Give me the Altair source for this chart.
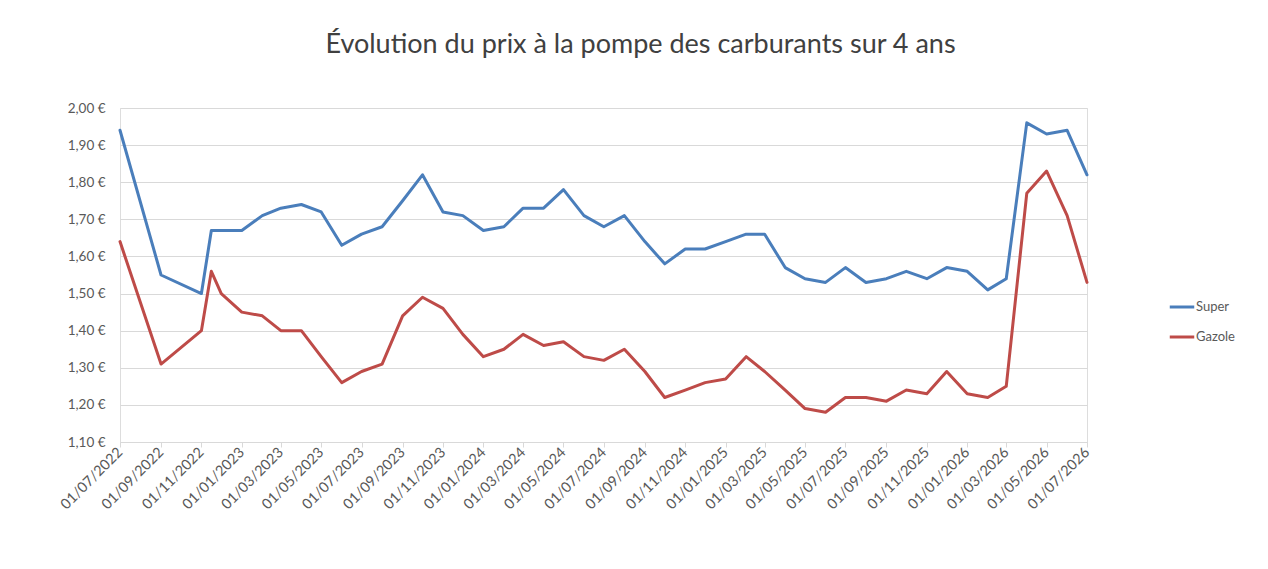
import altair as alt
import pandas as pd

dates = [
    "2022-07-01", "2022-09-01", "2022-11-01", "2022-11-16", "2022-12-01",
    "2023-01-01", "2023-02-01", "2023-03-01", "2023-04-01", "2023-05-01", "2023-06-01",
    "2023-07-01", "2023-08-01", "2023-09-01", "2023-10-01", "2023-11-01", "2023-12-01",
    "2024-01-01", "2024-02-01", "2024-03-01", "2024-04-01", "2024-05-01", "2024-06-01",
    "2024-07-01", "2024-08-01", "2024-09-01", "2024-10-01", "2024-11-01", "2024-12-01",
    "2025-01-01", "2025-02-01", "2025-03-01", "2025-04-01", "2025-05-01", "2025-06-01",
    "2025-07-01", "2025-08-01", "2025-09-01", "2025-10-01", "2025-11-01", "2025-12-01",
    "2026-01-01", "2026-02-01", "2026-03-01", "2026-04-01", "2026-05-01", "2026-06-01",
    "2026-07-01",
]
super_prices = [
    1.94, 1.55, 1.50, 1.67, 1.67,
    1.67, 1.71, 1.73, 1.74, 1.72, 1.63,
    1.66, 1.68, 1.75, 1.82, 1.72, 1.71,
    1.67, 1.68, 1.73, 1.73, 1.78, 1.71,
    1.68, 1.71, 1.64, 1.58, 1.62, 1.62,
    1.64, 1.66, 1.66, 1.57, 1.54, 1.53,
    1.57, 1.53, 1.54, 1.56, 1.54, 1.57,
    1.56, 1.51, 1.54, 1.96, 1.93, 1.94,
    1.82,
]
gazole_prices = [
    1.64, 1.31, 1.40, 1.56, 1.50,
    1.45, 1.44, 1.40, 1.40, 1.33, 1.26,
    1.29, 1.31, 1.44, 1.49, 1.46, 1.39,
    1.33, 1.35, 1.39, 1.36, 1.37, 1.33,
    1.32, 1.35, 1.29, 1.22, 1.24, 1.26,
    1.27, 1.33, 1.29, 1.24, 1.19, 1.18,
    1.22, 1.22, 1.21, 1.24, 1.23, 1.29,
    1.23, 1.22, 1.25, 1.77, 1.83, 1.71,
    1.53,
]
series_names = ["Super", "Gazole"]
series_colors = ["#4a7ebb", "#be4b48"]
y_ticks = [1.10, 1.20, 1.30, 1.40, 1.50, 1.60, 1.70, 1.80, 1.90, 2.00]
x_tick_months = [(2022 + (6 + 2 * i) // 12, (6 + 2 * i) % 12 + 1) for i in range(25)]

rows = []
for d, s, g in zip(dates, super_prices, gazole_prices):
    rows.append({"date": d + "T00:00:00", "serie": "Super", "prix": s})
    rows.append({"date": d + "T00:00:00", "serie": "Gazole", "prix": g})
df = pd.DataFrame(rows)

font = "Lato"
label_color = "#595959"

x_values = [alt.DateTime(year=y, month=m, date=1) for (y, m) in x_tick_months]

chart = (
    alt.Chart(df)
    .mark_line(strokeWidth=3, strokeCap="round", strokeJoin="round")
    .encode(
        x=alt.X(
            "date:T",
            scale=alt.Scale(
                domain=[alt.DateTime(year=2022, month=7, date=1), alt.DateTime(year=2026, month=7, date=1)],
                nice=False,
            ),
            axis=alt.Axis(
                title=None,
                values=x_values,
                format="%d/%m/%Y",
                labelAngle=-45,
                labelAlign="right",
                labelBaseline="middle",
                labelFont=font,
                labelFontSize=14.5,
                labelColor=label_color,
                labelPadding=3,
                labelOverlap=False,
                grid=False,
                domainColor="#d9d9d9",
                domainWidth=1,
                tickColor="#d9d9d9",
                tickSize=5,
            ),
        ),
        y=alt.Y(
            "prix:Q",
            scale=alt.Scale(domain=[1.10, 2.00], nice=False, zero=False),
            axis=alt.Axis(
                title=None,
                values=y_ticks,
                labelExpr="replace(format(datum.value, '.2f'), '.', ',') + ' €'",
                labelFont=font,
                labelFontSize=13.5,
                labelColor=label_color,
                labelPadding=15,
                domain=False,
                ticks=False,
                gridColor="#d9d9d9",
                gridWidth=1,
            ),
        ),
        color=alt.Color(
            "serie:N",
            scale=alt.Scale(domain=series_names, range=series_colors),
            legend=alt.Legend(
                title=None,
                orient="none",
                legendX=1048,
                legendY=185,
                symbolType="stroke",
                symbolSize=600,
                symbolStrokeWidth=3,
                labelFont=font,
                labelFontSize=13,
                labelColor=label_color,
                rowPadding=9,
                labelOffset=0,
            ),
        ),
        order=alt.Order("date:T"),
    )
    .properties(
        width=967,
        height=334,
        title=alt.TitleParams(
            "Évolution du prix à la pompe des carburants sur 4 ans",
            font=font,
            fontSize=27,
            fontWeight="normal",
            color="#404040",
            anchor="middle",
            offset=42,
            dx=37,
        ),
        padding={"left": 49, "top": 23, "right": 5, "bottom": 5},
    )
    .configure_view(stroke=None)
    .configure(background="white")
)

chart.save("out.html", embed_options={"renderer": "svg", "actions": False})
